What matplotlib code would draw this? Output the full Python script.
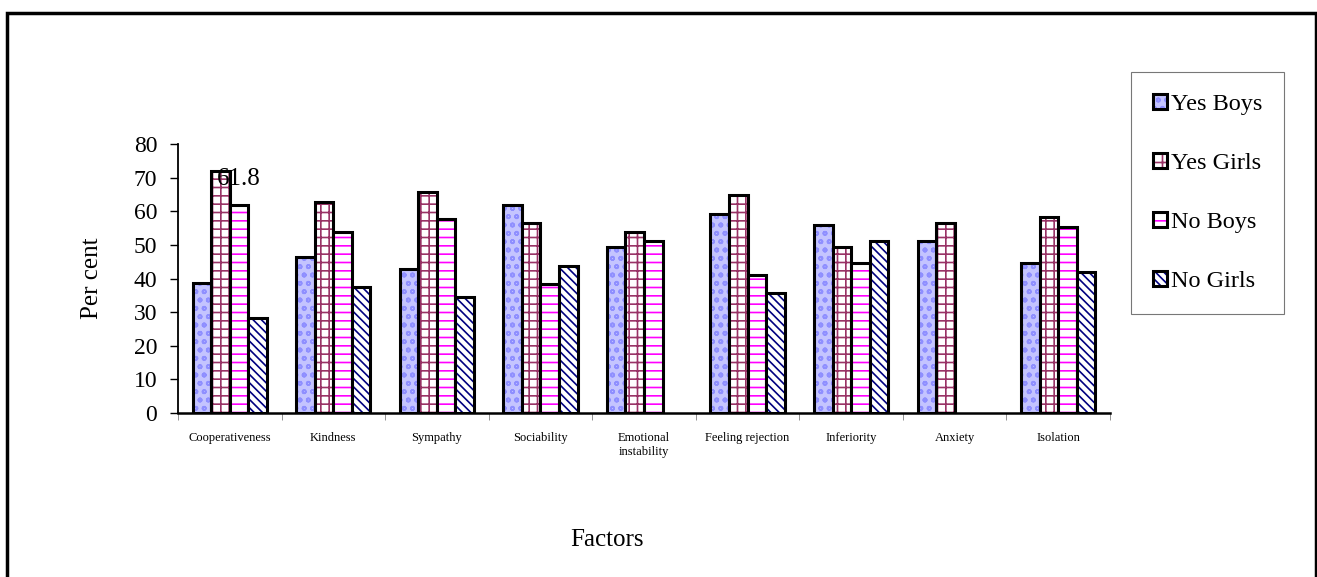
import numpy as np
import matplotlib
matplotlib.use("Agg")
from matplotlib import pyplot as plt
from matplotlib.patches import Rectangle

factors = ["Cooperativeness", "Kindness", "Sympathy", "Sociability",
           "Emotional\ninstability", "Feeling rejection", "Inferiority",
           "Anxiety", "Isolation"]
series = ["Yes Boys", "Yes Girls", "No Boys", "No Girls"]

yes_boys = [38.6, 46.5, 42.9, 62.0, 49.3, 59.2, 55.8, 51.1, 44.7]
yes_girls = [72.1, 62.9, 65.7, 56.6, 53.9, 64.9, 49.3, 56.6, 58.4]
no_boys = [61.8, 53.9, 57.7, 38.4, 51.1, 41.1, 44.7, np.nan, 55.4]
no_girls = [28.3, 37.4, 34.6, 43.8, np.nan, 35.6, 51.1, np.nan, 42.0]

values = [yes_boys, yes_girls, no_boys, no_girls]

# fill colour, hatch, hatch colour
styles = [("#c4c4ff", "oo", "#8f8fff"),
          ("white", "++", "#993366"),
          ("white", "--", "#ff00ff"),
          ("white", "\\\\\\\\", "#000080")]

plt.rcParams['font.family'] = ['Liberation Serif', 'DejaVu Serif']
plt.rcParams['hatch.linewidth'] = 1.2

fig = plt.figure(figsize=(13.17, 5.77), dpi=100)
ax = fig.add_axes([0.1352, 0.2842, 0.7076, 0.4662])

x = np.arange(len(factors))
w = 0.179
handles = []
for i, (name, vals) in enumerate(zip(series, values)):
    fc, hatch, hc = styles[i]
    pos = x + (i - 1.5) * w
    b1 = ax.bar(pos, vals, w, color=fc, hatch=hatch, edgecolor=hc, linewidth=0)
    b2 = ax.bar(pos, vals, w, fill=False, edgecolor="black", linewidth=2.2)
    handles.append((b1[0], b2[0]))

# data label
ax.text(x[0] + 0.5 * w, 69.6, "61.8", fontsize=18, ha="center", va="center")

ax.set_xlim(-0.5, len(factors) - 0.5)
ax.set_ylim(0, 80)
ax.set_yticks(np.arange(0, 81, 10))
ax.tick_params(axis="y", labelsize=17, direction="out", length=6, width=1, pad=9)
ax.set_xticks(x)
ax.set_xticklabels(factors, fontsize=9)
ax.tick_params(axis="x", length=0, pad=14)
ax.set_xticks(np.arange(-0.5, len(factors), 1), minor=True)
ax.tick_params(axis="x", which="minor", length=5, color="grey", direction="out")
for s in ["top", "right"]:
    ax.spines[s].set_visible(False)
ax.spines["left"].set_linewidth(1.3)
ax.spines["bottom"].set_linewidth(1.8)

ax.set_ylabel("Per cent", fontsize=18, labelpad=22)
fig.text(0.4606, 0.064, "Factors", fontsize=18, ha="center", va="center")

leg = fig.legend(handles, series, loc="upper left",
                 bbox_to_anchor=(0.8588, 0.8752), fontsize=17.5,
                 frameon=True, fancybox=False, edgecolor="#555555",
                 handlelength=0.6, handleheight=0.6, handletextpad=0.15,
                 labelspacing=1.55, borderpad=0.9, borderaxespad=0)
leg.get_frame().set_linewidth(0.8)

# outer chart border
fig.patches.append(Rectangle((7 / 1317, -0.05), 1309 / 1317, 1.05 - 13 / 577,
                             transform=fig.transFigure, fill=False,
                             edgecolor="black", linewidth=2.5))

fig.savefig("out.png")
